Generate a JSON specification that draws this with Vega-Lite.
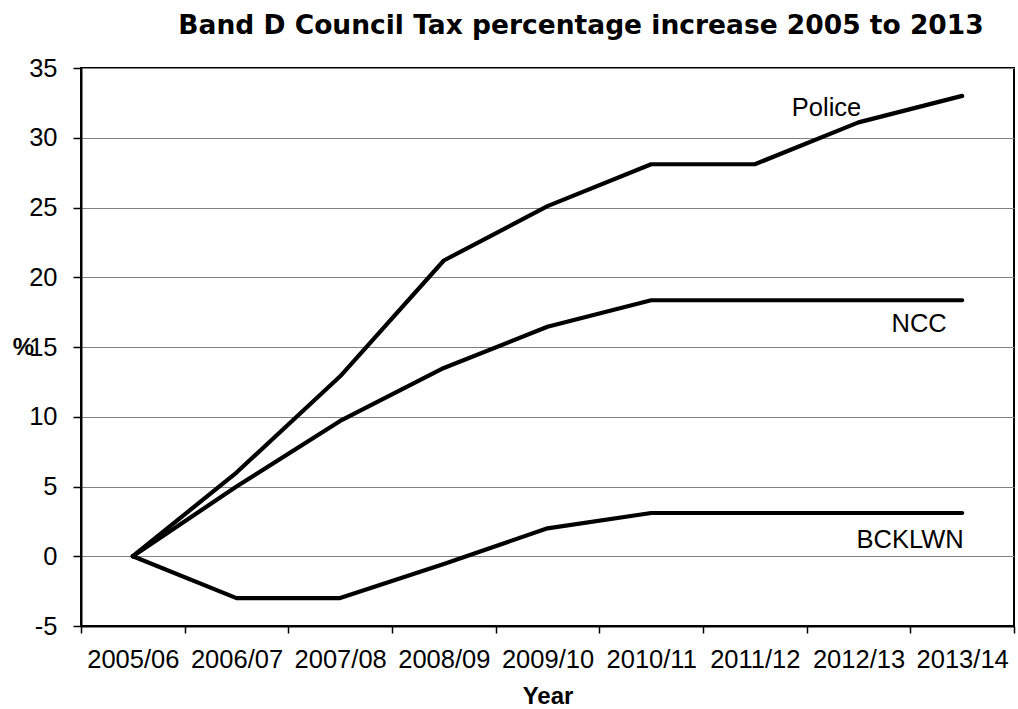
{
  "$schema": "https://vega.github.io/schema/vega-lite/v6.json",
  "autosize": {"type": "none"},
  "width": 933,
  "height": 558,
  "padding": {"left": 81, "top": 68, "right": 4, "bottom": 83},
  "background": "white",
  "config": {
    "font": "Liberation Sans",
    "view": {"stroke": "black", "strokeWidth": 2}
  },
  "title": {
    "text": "Band D Council Tax percentage increase 2005 to 2013",
    "font": "DejaVu Sans",
    "fontSize": 26.5,
    "fontWeight": "bold",
    "color": "black",
    "anchor": "middle",
    "dx": 33.5,
    "offset": 17
  },
  "data": {
    "values": [
      {"year": "2005/06", "series": "Police", "value": 0},
      {"year": "2006/07", "series": "Police", "value": 6.0},
      {"year": "2007/08", "series": "Police", "value": 12.9},
      {"year": "2008/09", "series": "Police", "value": 21.2},
      {"year": "2009/10", "series": "Police", "value": 25.1},
      {"year": "2010/11", "series": "Police", "value": 28.1},
      {"year": "2011/12", "series": "Police", "value": 28.1},
      {"year": "2012/13", "series": "Police", "value": 31.1},
      {"year": "2013/14", "series": "Police", "value": 33.0},
      {"year": "2005/06", "series": "NCC", "value": 0},
      {"year": "2006/07", "series": "NCC", "value": 5.0},
      {"year": "2007/08", "series": "NCC", "value": 9.7},
      {"year": "2008/09", "series": "NCC", "value": 13.5},
      {"year": "2009/10", "series": "NCC", "value": 16.45},
      {"year": "2010/11", "series": "NCC", "value": 18.35},
      {"year": "2011/12", "series": "NCC", "value": 18.35},
      {"year": "2012/13", "series": "NCC", "value": 18.35},
      {"year": "2013/14", "series": "NCC", "value": 18.35},
      {"year": "2005/06", "series": "BCKLWN", "value": 0},
      {"year": "2006/07", "series": "BCKLWN", "value": -3.0},
      {"year": "2007/08", "series": "BCKLWN", "value": -3.0},
      {"year": "2008/09", "series": "BCKLWN", "value": -0.55},
      {"year": "2009/10", "series": "BCKLWN", "value": 2.0},
      {"year": "2010/11", "series": "BCKLWN", "value": 3.1},
      {"year": "2011/12", "series": "BCKLWN", "value": 3.1},
      {"year": "2012/13", "series": "BCKLWN", "value": 3.1},
      {"year": "2013/14", "series": "BCKLWN", "value": 3.1}
    ]
  },
  "encoding": {
    "x": {
      "field": "year",
      "type": "ordinal",
      "sort": null,
      "scale": {"type": "band", "paddingInner": 0, "paddingOuter": 0},
      "axis": {
        "title": "Year",
        "titleFont": "Liberation Sans",
        "titleFontSize": 24,
        "titleFontWeight": "bold",
        "titleColor": "black",
        "titlePadding": 12,
        "labelAngle": 0,
        "labelFont": "Liberation Sans",
        "labelFontSize": 25.5,
        "labelColor": "black",
        "labelPadding": 14,
        "labelOverlap": false,
        "tickBand": "extent",
        "tickColor": "black",
        "tickSize": 7,
        "tickWidth": 1.5,
        "domainColor": "black",
        "domainWidth": 2,
        "grid": false
      }
    },
    "y": {
      "field": "value",
      "type": "quantitative",
      "scale": {"domain": [-5, 35], "nice": false, "zero": false},
      "axis": {
        "title": "%",
        "titleAngle": 0,
        "titleFont": "Liberation Sans",
        "titleFontSize": 24,
        "titleFontWeight": "bold",
        "titleColor": "black",
        "titleX": -58,
        "titleY": 279,
        "titleAlign": "center",
        "titleBaseline": "middle",
        "values": [-5, 0, 5, 10, 15, 20, 25, 30, 35],
        "labelExpr": "'' + datum.value",
        "labelFont": "Liberation Sans",
        "labelFontSize": 25.5,
        "labelColor": "black",
        "labelPadding": 16,
        "tickColor": "black",
        "tickSize": 8,
        "tickWidth": 1.5,
        "domainColor": "black",
        "domainWidth": 2,
        "grid": true,
        "gridColor": "#808080",
        "gridWidth": 1.2,
        "gridOpacity": 1
      }
    }
  },
  "layer": [
    {
      "mark": {"type": "line", "color": "black", "strokeWidth": 4.2, "strokeJoin": "round", "strokeCap": "round"},
      "encoding": {"detail": {"field": "series"}}
    },
    {
      "transform": [{"filter": "datum.series == 'Police' && datum.year == '2012/13'"}],
      "mark": {"type": "text", "font": "Liberation Sans", "fontSize": 25.5, "color": "black", "dx": -32, "dy": -6.5, "align": "center", "baseline": "alphabetic"},
      "encoding": {"text": {"field": "series"}}
    },
    {
      "transform": [{"filter": "datum.series == 'NCC' && datum.year == '2013/14'"}],
      "mark": {"type": "text", "font": "Liberation Sans", "fontSize": 25.5, "color": "black", "dx": -43, "dy": 31.5, "align": "center", "baseline": "alphabetic"},
      "encoding": {"text": {"field": "series"}}
    },
    {
      "transform": [{"filter": "datum.series == 'BCKLWN' && datum.year == '2013/14'"}],
      "mark": {"type": "text", "font": "Liberation Sans", "fontSize": 25.5, "color": "black", "dx": -52, "dy": 35, "align": "center", "baseline": "alphabetic"},
      "encoding": {"text": {"field": "series"}}
    }
  ]
}
